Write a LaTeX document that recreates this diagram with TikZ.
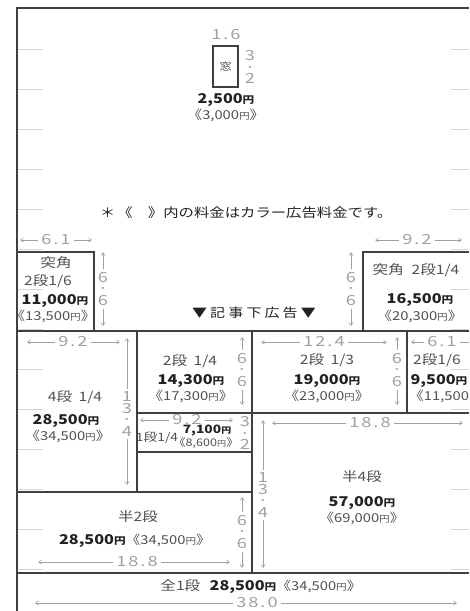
\documentclass[tikz,border=0pt]{standalone}
\usepackage{fontspec}
\setmainfont{Noto Sans CJK JP}[FakeStretch=1.2]
\newfontfamily\dimfont{Noto Sans CJK JP}[FakeStretch=1.3,LetterSpace=14]
\newfontfamily\spacedfont{Noto Sans CJK JP}[FakeStretch=1.2,LetterSpace=25]
\usetikzlibrary{arrows.meta}
\definecolor{rule}{HTML}{404040}
\definecolor{tickgray}{HTML}{D4D4D4}
\definecolor{dimgray}{HTML}{A0A0A0}
\definecolor{txtgray}{HTML}{505050}
\definecolor{ink}{HTML}{222222}
\newcommand{\yenmark}{\scalebox{0.72}{円}}
\newcommand{\price}[1]{{\bfseries #1\yenmark}}
\newcommand{\cprice}[1]{《#1\yenmark》}
\tikzset{
  box/.style={draw=rule,line width=1.2pt},
  tick/.style={draw=tickgray,line width=0.8pt},
  dimtxt/.style={text=dimgray,font=\dimfont\fontsize{14}{11.5}\selectfont,inner sep=3pt,align=center},
  dimarr/.style={draw=dimgray,line width=0.6pt,-{Straight Barb[length=3pt,width=4pt]}},
  lbl/.style={text=txtgray,font=\fontsize{13}{14}\selectfont,inner sep=0pt},
  pr/.style={text=ink,font=\fontsize{13.5}{15}\selectfont,inner sep=0pt},
  cpr/.style={text=txtgray,font=\fontsize{12.3}{13}\selectfont,inner sep=0pt}
}
\begin{document}
\begin{tikzpicture}[x=1pt,y=-1pt]
\useasboundingbox (0,0) rectangle (469,611);
\clip (0,0) rectangle (469,611);
\foreach \y in {49,89,...,569}{
	\draw[tick] (17,\y) -- (43,\y);
	\draw[tick] (451,\y) -- (469,\y);}
\draw[box] (17,611) -- (17,8) -- (469,8);
\draw[box] (213,46) rectangle (238,87);
\draw[box] (17,252) -- (94,252) -- (94,331);
\draw[box] (363,331) -- (363,252) -- (469,252);
\draw[box] (17,331) -- (469,331);
\draw[box] (137,331) -- (137,492);
\draw[box] (252,331) -- (252,573);
\draw[box] (407,331) -- (407,413);
\draw[box] (137,413) -- (469,413);
\draw[box] (137,452) -- (252,452);
\draw[box] (17,492) -- (252,492);
\draw[box] (17,573) -- (469,573);
\foreach \n/\x/\y/\a/\b/\t in {a/56/240/20/92/6.1,b/417/240/375/462/9.2,c/73/342/27/120/9.2,d/324/342/261/387/12.4,e/442/342/411/480/6.1,f/187/420/140/233/9.2,g/370/423/272/463/18.8,h/137/562/38/230/18.8,i/257/603/35/457/38.0}{
	\node[dimtxt] (w\n) at (\x,\y) {\t};
	\draw[dimarr] (w\n.west) -- (\a,\y);
	\draw[dimarr] (w\n.east) -- (\b,\y);}
\foreach \n/\x/\y/\a/\b/\t in {a/103/289/252/326/{6\\·\\6},b/351/289/252/326/{6\\·\\6},c/242/370/337/405/{6\\·\\6},d/397/370/337/405/{6\\·\\6},e/127/414/338/485/{1\\3\\·\\4},f/263/495/420/568/{1\\3\\·\\4},g/242/532/497/568/{6\\·\\6}}{
	\node[dimtxt] (h\n) at (\x,\y) {\t};
	\draw[dimarr] (h\n.north) -- (\x,\a);
	\draw[dimarr] (h\n.south) -- (\x,\b);}
\node[dimtxt] (wmado) at (226,35) {1.6};
\node[dimtxt] (hmado) at (250,67) {3\\·\\2};
\node[dimtxt] (hichi) at (245,433) {3\\·\\2};
\node[lbl,font=\fontsize{10}{10}\selectfont] (mado) at (225.5,66.5) {窓};
\node[pr] (pmado) at (226,100) {\price{2,500}};
\node[cpr] (cmado) at (226,115) {\cprice{3,000}};
\node[lbl,text=ink,font=\fontsize{12.8}{13}\selectfont] (note) at (246,213) {＊\,《　》内の料金はカラー広告料金です。};
\node[lbl] (tkl) at (56,263) {突角};
\node[lbl] (tklb) at (48,281) {2段1/6};
\node[pr] (ptkl) at (55,301) {\price{11,000}};
\node[cpr] (ctkl) at (53,316) {\cprice{13,500}};
\node[lbl] (tkr) at (416,270) {突角\hspace{0.6em}2段1/4};
\node[pr] (ptkr) at (420,300) {\price{16,500}};
\node[cpr] (ctkr) at (420,316) {\cprice{20,300}};
\node[lbl,text=ink,font=\spacedfont\fontsize{12.5}{13}\selectfont] (kiji) at (254,313) {▼記事下広告▼};
\node[lbl] (yon) at (75,397) {4段\hspace{0.5em}1/4};
\node[pr] (pyon) at (66,421) {\price{28,500}};
\node[cpr] (cyon) at (68,436) {\cprice{34,500}};
\node[lbl] (nia) at (190,361) {2段\hspace{0.5em}1/4};
\node[pr] (pnia) at (191,381) {\price{14,300}};
\node[cpr] (cnia) at (191,396) {\cprice{17,300}};
\node[lbl] (nib) at (327,360) {2段\hspace{0.5em}1/3};
\node[pr] (pnib) at (327,381) {\price{19,000}};
\node[cpr] (cnib) at (327,396) {\cprice{23,000}};
\node[lbl] (nic) at (437,360) {2段1/6};
\node[pr] (pnic) at (439,381) {\price{9,500}};
\node[cpr,anchor=west] (cnic) at (409,396) {\cprice{11,500}};
\node[lbl,font=\fontsize{11.5}{12}\selectfont] (ichi) at (157,438) {1段1/4};
\node[pr,font=\fontsize{11.5}{12}\selectfont] (pichi) at (207,431) {\price{7,100}};
\node[cpr,font=\fontsize{10.5}{11}\selectfont] (cichi) at (206,443) {\cprice{8,600}};
\node[lbl] (hanyon) at (362,477) {半4段};
\node[pr] (phanyon) at (362,503) {\price{57,000}};
\node[cpr] (chanyon) at (362,518) {\cprice{69,000}};
\node[lbl] (hanni) at (138,517) {半2段};
\node[pr] (phanni) at (135,541) {\price{28,500}{\fontsize{12.3}{13}\selectfont\color{txtgray}\cprice{34,500}}};
\node[pr] (zen) at (261,587) {{\fontsize{13}{14}\selectfont\color{txtgray}全1段}\hspace{0.7em}\price{28,500}{\fontsize{12.3}{13}\selectfont\color{txtgray}\cprice{34,500}}};
\end{tikzpicture}
\end{document}
